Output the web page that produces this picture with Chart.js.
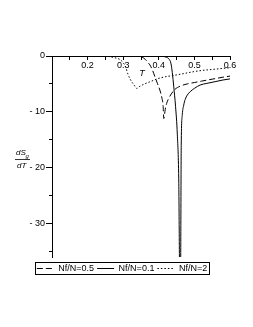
<!DOCTYPE html>
<html><head><meta charset="utf-8">
<script src="https://cdn.jsdelivr.net/npm/chart.js@4/dist/chart.umd.min.js"></script>
<style>html,body{margin:0;padding:0;background:#fff}#c{display:block}</style>
</head><body>
<canvas id="c" width="253" height="327"></canvas>
<script>
const seriesLabels = ['Nf/N=0.5', 'Nf/N=0.1', 'Nf/N=2'];

const xHalf = [0.1, 0.3, 0.34, 0.353, 0.362, 0.37, 0.375, 0.382, 0.389, 0.396, 0.403, 0.409, 0.412, 0.414, 0.418, 0.422, 0.427, 0.435, 0.445, 0.46, 0.48, 0.5, 0.52, 0.55, 0.58, 0.6];
const yHalf = [0, 0, -0.05, -0.2, -0.6, -1.2, -1.6, -2.5, -3.7, -4.9, -6.1, -7.6, -8.8, -11.2, -9.6, -8.5, -7.7, -6.8, -6.0, -5.4, -5.0, -4.75, -4.5, -4.15, -3.8, -3.6];

const xTenth = [0.1, 0.38, 0.41, 0.42, 0.428, 0.434, 0.438, 0.442, 0.447, 0.452, 0.456, 0.459, 0.461, 0.463, 0.466, 0.47, 0.474, 0.48, 0.488, 0.5, 0.516, 0.535, 0.558, 0.58, 0.6];
const yTenth = [0, 0, -0.05, -0.2, -0.5, -1.3, -3, -5.5, -9, -14, -22, -40, -40, -16, -10.5, -8.8, -7.8, -7.0, -6.4, -5.8, -5.2, -4.9, -4.6, -4.3, -4.1];

const xTwo = [0.1, 0.24, 0.26, 0.275, 0.29, 0.3, 0.307, 0.313, 0.32, 0.328, 0.334, 0.338, 0.345, 0.36, 0.38, 0.395, 0.42, 0.44, 0.47, 0.49, 0.52, 0.56, 0.6];
const yTwo = [0, 0, -0.1, -0.3, -0.6, -1.2, -2.0, -3.2, -4.2, -5.0, -5.5, -5.8, -5.5, -5.0, -4.5, -4.1, -3.7, -3.5, -3.15, -2.9, -2.6, -2.35, -2.1];

const xTickValues = [0.2, 0.3, 0.4, 0.5, 0.6];
const xTickLabels = ['0.2', '0.3', '0.4', '0.5', '0.6'];
const yTickValues = [0, -10, -20, -30];
const yTickLabels = ['0', '- 10', '- 20', '- 30'];

function pts(xs, ys) { return xs.map((x, i) => ({x: x, y: ys[i]})); }
function findLabel(v, vals, labs) {
  for (let i = 0; i < vals.length; i++) if (Math.abs(v - vals[i]) < 1e-6) return labs[i];
  return '';
}

const FONT = 'Liberation Sans, Arial, sans-serif';

const decor = {
  id: 'decor',
  afterDraw(chart) {
    const ctx = chart.ctx;
    ctx.save();
    ctx.fillStyle = '#000';
    ctx.strokeStyle = '#000';
    ctx.font = 'italic 8px ' + FONT;
    ctx.textAlign = 'left';
    ctx.textBaseline = 'middle';
    ctx.fillText('dS', 16, 153);
    ctx.font = 'italic 6px ' + FONT;
    ctx.fillText('g', 25.5, 156);
    ctx.lineWidth = 0.8;
    ctx.beginPath(); ctx.moveTo(15, 159.5); ctx.lineTo(30, 159.5); ctx.stroke();
    ctx.font = 'italic 8px ' + FONT;
    ctx.fillText('dT', 17, 166);
    ctx.font = 'italic 9px ' + FONT;
    ctx.textAlign = 'center';
    ctx.fillText('T', 142, 73);
    const lg = chart.legend;
    if (lg && lg.legendHitBoxes && lg.legendHitBoxes.length) {
      const hb = lg.legendHitBoxes;
      const l = Math.min(...hb.map(h => h.left));
      const r = Math.max(...hb.map(h => h.left + h.width));
      const t = hb[0].top;
      ctx.lineWidth = 1;
      ctx.strokeRect(Math.round(l) - 1.5, Math.round(t) - 1.5, Math.round(r - l) + 4, 12);
    }
    ctx.restore();
  }
};

const common = {borderColor: '#000', borderWidth: 1, pointRadius: 0, fill: false, cubicInterpolationMode: 'monotone'};

new Chart(document.getElementById('c'), {
  type: 'line',
  data: {
    datasets: [
      Object.assign({label: seriesLabels[0], data: pts(xHalf, yHalf), borderDash: [6, 3]}, common),
      Object.assign({label: seriesLabels[1], data: pts(xTenth, yTenth)}, common),
      Object.assign({label: seriesLabels[2], data: pts(xTwo, yTwo), borderDash: [1.5, 2]}, common)
    ]
  },
  options: {
    responsive: false,
    devicePixelRatio: 1,
    animation: false,
    layout: {padding: {left: 14, right: 23, top: 56, bottom: 44}},
    plugins: {
      tooltip: {enabled: false},
      legend: {
        position: 'bottom',
        title: {display: true, text: '', font: {size: 1, lineHeight: 1}, padding: {top: 3, bottom: 0}},
        labels: {
          usePointStyle: true, pointStyle: 'line', pointStyleWidth: 17,
          padding: 3, color: '#000',
          font: {family: FONT, size: 9},
          generateLabels: chart => Chart.defaults.plugins.legend.labels.generateLabels(chart).map((it, i) => {
            it.lineDash = chart.data.datasets[i].borderDash || [];
            it.lineWidth = 1;
            it.strokeStyle = '#000';
            return it;
          })
        }
      }
    },
    scales: {
      x: {
        type: 'linear', axis: 'x', position: {y: 0}, min: 0.1, max: 0.6,
        ticks: {stepSize: 0.05, autoSkip: false, maxRotation: 0, padding: 1, color: '#000',
          font: {family: FONT, size: 9},
          callback: v => findLabel(v, xTickValues, xTickLabels)},
        grid: {drawOnChartArea: false, tickLength: 3, color: '#000'},
        border: {color: '#000', width: 1}
      },
      y: {
        type: 'linear', axis: 'y', position: 'left', min: -36, max: 0,
        ticks: {stepSize: 10, includeBounds: false, padding: 1, color: '#000',
          font: {family: FONT, size: 9},
          callback: v => findLabel(v, yTickValues, yTickLabels)},
        grid: {drawOnChartArea: false, tickLength: 6, color: '#000'},
        border: {color: '#000', width: 1},
        afterFit: s => { s.width = 38; }
      },
      y2: {
        type: 'linear', axis: 'y', position: {x: 0.1}, min: -36, max: 0,
        ticks: {stepSize: 5, includeBounds: false, display: false},
        grid: {drawOnChartArea: false, tickLength: 3, color: '#000'},
        border: {display: false}
      }
    }
  },
  plugins: [decor]
});
</script>
</body></html>
